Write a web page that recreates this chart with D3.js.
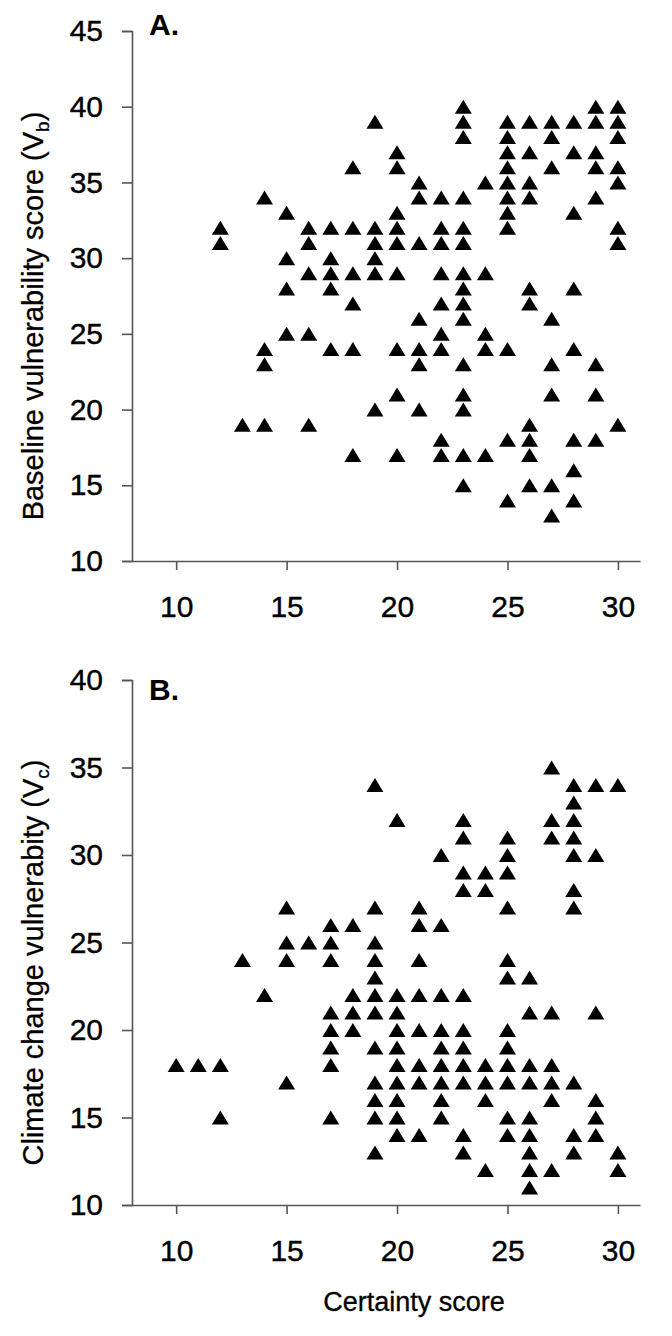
<!DOCTYPE html>
<html><head><meta charset="utf-8">
<script src="https://cdn.jsdelivr.net/npm/d3@7"></script>
<style>
body{margin:0;background:#fff}
text{font-family:"Liberation Sans",Arial,sans-serif;fill:#000}
</style>
</head><body>
<svg id="c" width="672" height="1336"></svg>
<script>
// ---- data ----
const xTicks = [10, 15, 20, 25, 30];
const yTicksA = [10, 15, 20, 25, 30, 35, 40, 45];
const yTicksB = [10, 15, 20, 25, 30, 35, 40];

// Panel A: certainty score columns and the baseline vulnerability scores at each
const certaintyA = [12, 13, 14, 15, 16, 17, 18, 19, 20, 21, 22, 23, 24, 25, 26, 27, 28, 29, 30];
const baselineA = [
  [32, 31],
  [19],
  [34, 24, 23, 19],
  [33, 30, 28, 25],
  [32, 31, 29, 25, 19],
  [32, 30, 29, 28, 24],
  [36, 32, 29, 27, 24, 17],
  [39, 32, 31, 30, 29, 20],
  [37, 36, 33, 32, 31, 29, 24, 21, 17],
  [35, 34, 31, 26, 24, 23, 20],
  [34, 32, 31, 29, 27, 25, 24, 18, 17],
  [40, 39, 38, 34, 32, 31, 29, 28, 27, 26, 23, 21, 20, 17, 15],
  [35, 29, 25, 24, 17],
  [39, 38, 37, 36, 35, 34, 33, 32, 24, 18, 14],
  [39, 37, 35, 34, 28, 27, 19, 18, 17, 15],
  [39, 38, 36, 26, 23, 21, 15, 13],
  [39, 37, 33, 28, 24, 18, 16, 14],
  [40, 39, 37, 36, 34, 23, 21, 18],
  [40, 39, 38, 36, 35, 32, 31, 19]
];

// Panel B: certainty score columns and the climate change vulnerability scores
const certaintyB = [10, 11, 12, 13, 14, 15, 16, 17, 18, 19, 20, 21, 22, 23, 24, 25, 26, 27, 28, 29, 30];
const climateB = [
  [18],
  [18],
  [18, 15],
  [24],
  [22],
  [27, 25, 24, 17],
  [25],
  [26, 25, 24, 21, 20, 19, 18, 15],
  [26, 22, 21, 20],
  [34, 27, 25, 24, 23, 22, 21, 19, 17, 16, 15, 13],
  [32, 22, 21, 20, 19, 18, 17, 16, 15, 14],
  [27, 26, 24, 22, 20, 18, 17, 14],
  [30, 26, 22, 20, 19, 18, 17, 16, 15],
  [32, 31, 29, 28, 22, 20, 19, 18, 17, 14, 13],
  [29, 28, 18, 17, 16, 12],
  [31, 30, 29, 27, 24, 23, 20, 19, 18, 17, 15, 14],
  [23, 21, 18, 17, 15, 14, 13, 12, 11],
  [35, 32, 31, 21, 18, 17, 16, 12],
  [34, 33, 32, 31, 30, 28, 27, 17, 14, 13],
  [34, 30, 21, 16, 15, 14],
  [34, 13, 12]
];

const xLabel = "Certainty score";
const panelLabels = ["A.", "B."];

// ---- drawing ----
const svg = d3.select("#c");
const axisColor = "#555";

function flatten(xs, ys) {
  const out = [];
  xs.forEach((x, i) => ys[i].forEach(y => out.push({x, y})));
  return out;
}

const tri = "M0,-7 L8.5,7 L-8.5,7 Z";

function panel(cfg) {
  const x = d3.scaleLinear().domain([8, 31]).range([132, 640]);
  const y = d3.scaleLinear().domain(cfg.yDomain).range([cfg.bottom, cfg.top]);
  const g = svg.append("g");

  const ya = g.append("g").attr("transform", "translate(132,0)")
    .call(d3.axisLeft(y).tickValues(cfg.yTicks).tickSize(10).tickSizeOuter(10).tickPadding(19).tickFormat(d3.format("d")));
  const xa = g.append("g").attr("transform", `translate(0,${cfg.bottom})`)
    .call(d3.axisBottom(x).tickValues(xTicks).tickSize(9).tickSizeOuter(0).tickPadding(26).tickFormat(d3.format("d")));
  [ya, xa].forEach(a => {
    a.selectAll("path,line").attr("stroke", axisColor).attr("stroke-width", 1.6);
    a.selectAll("text").attr("font-size", 30).attr("fill", "#000")
      .attr("font-family", '"Liberation Sans", Arial, sans-serif')
      .attr("stroke", "#000").attr("stroke-width", 0.4);
  });

  g.append("g").selectAll("path").data(cfg.points).join("path")
    .attr("d", tri)
    .attr("transform", d => `translate(${x(d.x)},${y(d.y)})`)
    .attr("fill", "#000");

  g.append("text").attr("x", 149).attr("y", cfg.labelY)
    .attr("font-size", 30).attr("font-weight", "bold").text(cfg.label);

  const t = g.append("text")
    .attr("transform", `translate(33,${(cfg.top + cfg.bottom) / 2 + 20}) rotate(-90)`)
    .attr("text-anchor", "middle").attr("dy", "0.35em")
    .attr("font-size", 29).attr("stroke", "#000").attr("stroke-width", 0.3);
  t.append("tspan").text(cfg.title);
  t.append("tspan").attr("font-size", 19).attr("dy", 6).text(cfg.sub);
  t.append("tspan").attr("dy", -6).text(")");
  return x;
}

panel({
  top: 31, bottom: 561, yDomain: [10, 45], yTicks: yTicksA,
  points: flatten(certaintyA, baselineA), label: panelLabels[0], labelY: 35,
  title: "Baseline vulnerability score (V", sub: "b"
});
panel({
  top: 680, bottom: 1205, yDomain: [10, 40], yTicks: yTicksB,
  points: flatten(certaintyB, climateB), label: panelLabels[1], labelY: 700,
  title: "Climate change vulnerabity (V", sub: "c"
});

svg.append("text").attr("x", 414).attr("y", 1302)
  .attr("text-anchor", "middle").attr("dy", "0.35em")
  .attr("font-size", 27).attr("stroke", "#000").attr("stroke-width", 0.3).text(xLabel);
</script>
</body></html>
